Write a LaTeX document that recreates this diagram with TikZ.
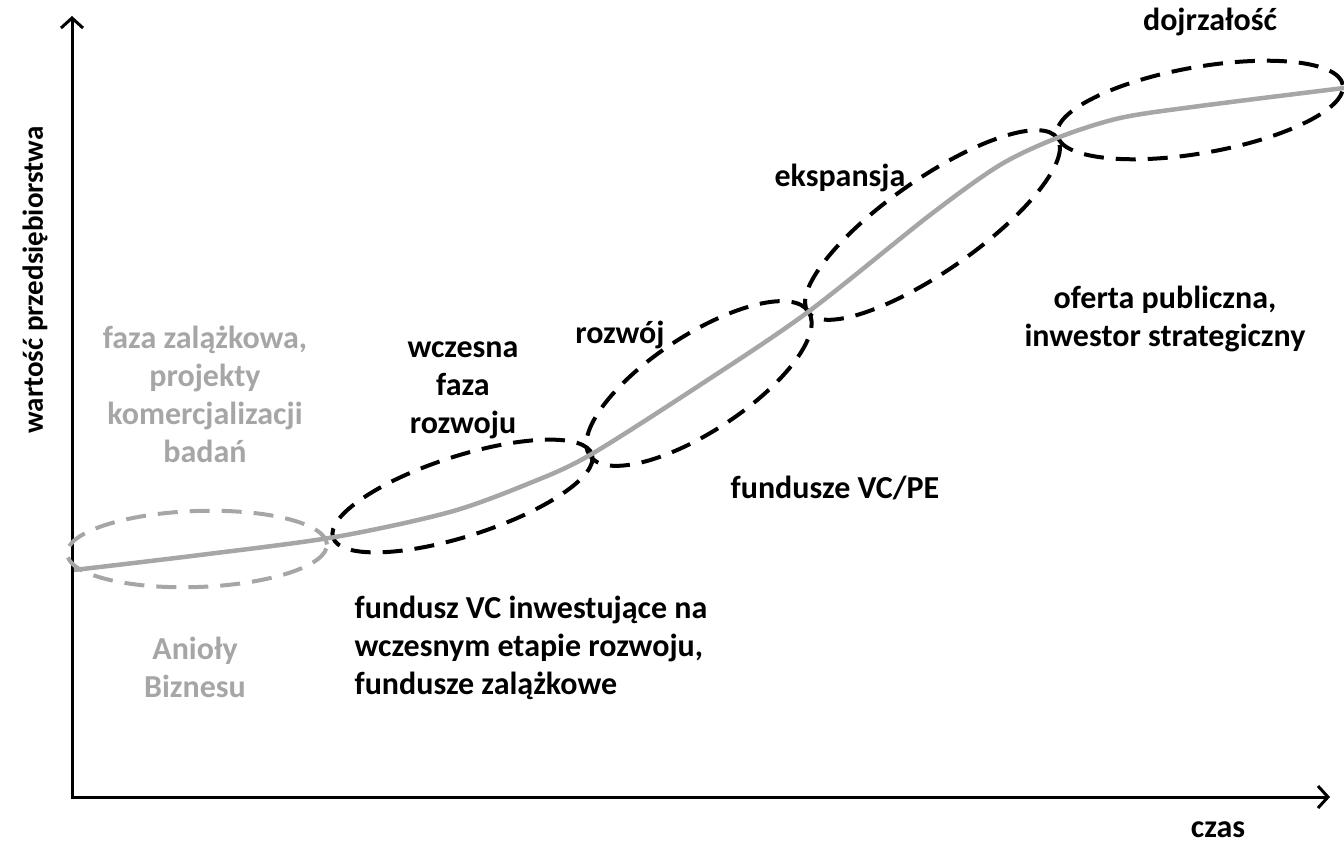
\documentclass[tikz,border=0pt]{standalone}
\usepackage{fontspec}
\setmainfont{Carlito}
\usetikzlibrary{arrows.meta, shapes.geometric}
\definecolor{stagegray}{RGB}{166,166,166}

\begin{document}
\begin{tikzpicture}[
  x=1pt, y=-1pt,
  axis/.style={line width=3pt, {Straight Barb[length=10pt, width=22pt]}-{Straight Barb[length=10pt, width=22pt]}},
  stage/.style={draw, ellipse, line width=4pt, dash pattern=on 20pt off 12pt,
                inner sep=0pt},
  angel/.style={stage, draw=stagegray},
  curve/.style={stagegray, line width=4.5pt},
  lbl/.style={font=\fontsize{32}{38}\selectfont\bfseries, align=center},
  greylbl/.style={lbl, text=stagegray},
]
  \useasboundingbox (0,0) rectangle (1344,848);

  % axes
  \coordinate (ytop) at (72,16);
  \coordinate (o) at (72,797);
  \coordinate (xend) at (1330,797);
  \draw[axis] (ytop) -- (o) -- (xend);
  \node[lbl, font=\fontsize{29}{35}\selectfont\bfseries, rotate=90] (yl) at (35,280) {wartość przedsiębiorstwa};
  \node[lbl] (xl) at (1218,830) {czas};

  % stages
  \node[angel, minimum width=260, minimum height=76, rotate=2] (e1) at (197,549) {};
  \node[stage, minimum width=272, minimum height=80, rotate=17.8] (e2) at (462.5,496) {};
  \node[stage, minimum width=262, minimum height=96, rotate=33.3] (e3) at (699,383.5) {};
  \node[stage, minimum width=304, minimum height=92, rotate=34.9] (e4) at (932.5,225) {};
  \node[stage, minimum width=290, minimum height=86, rotate=10] (e5) at (1200,110) {};

  % value curve
  \draw[curve] plot[smooth] coordinates {(74,570) (200,555) (335,537) (450,512)
    (530,483) (590,455) (700,385) (808,312) (930,215) (1000,165) (1057,138)
    (1120,118) (1200,106) (1344,88)};

  % phases
  \node[greylbl] (seed) at (205,394) {faza zalążkowa,\\projekty\\komercjalizacji\\badań};
  \node[lbl] (early) at (463,390) {wczesna\\faza\\rozwoju};
  \node[lbl] (growth) at (620,335) {rozwój};
  \node[lbl] (exp) at (840,178) {ekspansja};
  \node[lbl] (mat) at (1210,22) {dojrzałość};

  % investors
  \node[greylbl] (angels) at (195,667) {Anioły\\Biznesu};
  \node[lbl, align=left] (vcearly) at (531,648) {fundusz VC inwestujące na\\wczesnym etapie rozwoju,\\fundusze zalążkowe};
  \node[lbl] (vcpe) at (835,488) {fundusze VC/PE};
  \node[lbl] (ipo) at (1165,319) {oferta publiczna,\\inwestor strategiczny};
\end{tikzpicture}
\end{document}
